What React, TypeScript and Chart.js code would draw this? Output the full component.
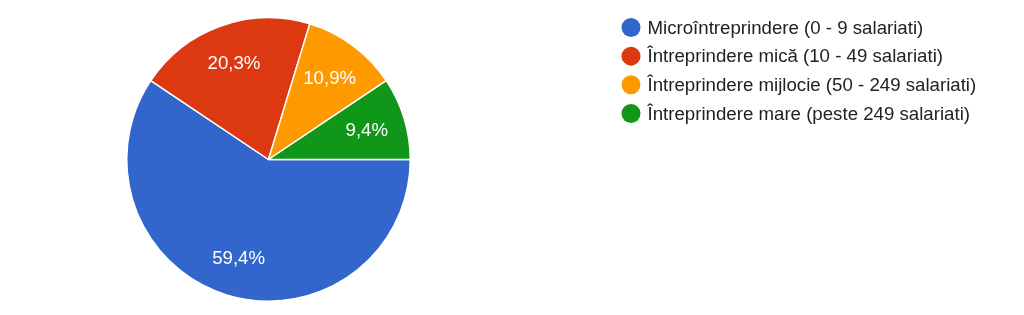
import React, { useEffect, useRef } from "react";
import { Chart, registerables } from "chart.js";

Chart.register(...registerables);

const categories = [
  "Microîntreprindere (0 - 9 salariati)",
  "Întreprindere mică (10 - 49 salariati)",
  "Întreprindere mijlocie (50 - 249 salariati)",
  "Întreprindere mare (peste 249 salariati)",
];
const percentages = [59.4, 20.3, 10.9, 9.4];
const colors = ["#3366cc", "#dc3912", "#ff9900", "#109618"];

const FONT = '"Liberation Sans", Arial, sans-serif';
const FONT_SIZE = 18.67;

const sliceLabels = {
  id: "sliceLabels",
  afterDatasetsDraw(chart: any) {
    const ctx = chart.ctx;
    const meta = chart.getDatasetMeta(0);
    ctx.save();
    ctx.fillStyle = "#ffffff";
    ctx.font = `${FONT_SIZE}px ${FONT}`;
    ctx.textAlign = "center";
    ctx.textBaseline = "middle";
    meta.data.forEach((arc: any, i: number) => {
      const { x, y, startAngle, endAngle, outerRadius } = arc.getProps(
        ["x", "y", "startAngle", "endAngle", "outerRadius"],
        true
      );
      const mid = (startAngle + endAngle) / 2;
      const r = outerRadius * 0.725;
      const text = percentages[i].toFixed(1).replace(".", ",") + "%";
      ctx.fillText(text, x + Math.cos(mid) * r, y + Math.sin(mid) * r + 1.5);
    });
    ctx.restore();
  },
};

const customLegend = {
  id: "customLegend",
  afterDraw(chart: any) {
    const ctx = chart.ctx;
    ctx.save();
    ctx.font = `${FONT_SIZE}px ${FONT}`;
    ctx.textBaseline = "middle";
    ctx.textAlign = "left";
    const x0 = 631;
    const y0 = 27.5;
    const step = 28.65;
    categories.forEach((label, i) => {
      const y = y0 + i * step;
      ctx.beginPath();
      ctx.arc(x0, y, 9.5, 0, Math.PI * 2);
      ctx.fillStyle = colors[i];
      ctx.fill();
      ctx.fillStyle = "#222222";
      ctx.fillText(label, 647.5, y + 1);
    });
    ctx.restore();
  },
};

export default function App() {
  const ref = useRef<HTMLCanvasElement>(null);
  useEffect(() => {
    if (!ref.current) return;
    const chart = new Chart(ref.current, {
      type: "pie",
      data: {
        labels: categories,
        datasets: [
          {
            data: percentages,
            backgroundColor: colors,
            borderColor: "#ffffff",
            borderWidth: 1.5,
          },
        ],
      },
      options: {
        responsive: false,
        animation: false,
        rotation: 90,
        layout: { padding: { left: 126, top: 17, right: 613, bottom: 13 } },
        plugins: {
          legend: { display: false },
          tooltip: { enabled: false },
        },
      },
      plugins: [sliceLabels, customLegend],
    });
    return () => chart.destroy();
  }, []);
  return (
    <div style={{ position: "absolute", left: 0, top: 0, width: 1024, height: 315, background: "#fff" }}>
      <canvas ref={ref} width={1024} height={315} />
    </div>
  );
}
